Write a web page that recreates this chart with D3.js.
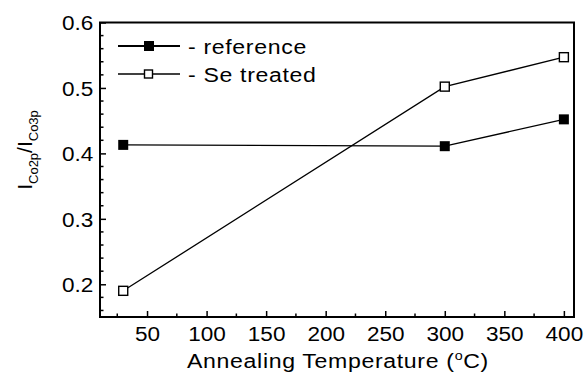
<!DOCTYPE html>
<html>
<head>
<meta charset="utf-8">
<script src="https://cdn.jsdelivr.net/npm/d3@7"></script>
<style>
  body { margin: 0; background: #fff; }
  svg { display: block; }
  text { font-family: "Liberation Sans", Arial, sans-serif; fill: #000; }
</style>
</head>
<body>
<svg id="chart" width="587" height="376"></svg>
<script>
// data
var temps = [30, 300, 400];
var refValues = [0.413, 0.411, 0.452];
var seValues = [0.190, 0.502, 0.547];
var xTicks = [50, 100, 150, 200, 250, 300, 350, 400];
var yTicks = [0.2, 0.3, 0.4, 0.5, 0.6];
var seriesNames = ['- reference', '- Se treated'];

var
svg = d3.select('#chart'),
margin = {left: 100, top: 22.5, right: 13, bottom: 59},
W = 587, H = 376,
sx = 1.1,
x = d3.scaleLinear().domain([10.5, 408.5]).range([margin.left, W - margin.right]),
y = d3.scaleLinear().domain([0.15, 0.6]).range([H - margin.bottom, margin.top]);

// text placed at (px,py), stretched a bit wider like the original
function d3c_stretchText(sel, px, py) {
    sel.attr('transform', 'translate(' + px + ',' + py + ') scale(' + sx + ',1)');
}

// minor ticks
var xMinor = d3.range(25, 410, 25).filter(function (v) { return v % 50 !== 0; });
var yMinor = d3.range(0.16, 0.6, 0.02).filter(function (v) { return Math.abs(v * 10 - Math.round(v * 10)) > 0.01; });

var xAxis = d3.axisBottom(x).tickValues(xTicks).tickSizeInner(-6).tickSizeOuter(0).tickPadding(9).tickFormat(d3.format('d'));
var yAxis = d3.axisLeft(y).tickValues(yTicks).tickSizeInner(-6).tickSizeOuter(0).tickPadding(6).tickFormat(d3.format('.1f'));

var gx = svg.append('g').attr('transform', 'translate(0,' + (H - margin.bottom) + ')').call(xAxis);
var gy = svg.append('g').attr('transform', 'translate(' + margin.left + ',0)').call(yAxis);
[gx, gy].forEach(function (g) {
    g.select('.domain').remove();
    g.selectAll('.tick line').attr('stroke', '#000').attr('stroke-width', 1.5);
    g.selectAll('.tick text')
        .style('font-size', '20.5px')
        .style('font-family', '"Liberation Sans", Arial, sans-serif')
        .attr('transform', 'scale(' + sx + ',1)')
        .attr('fill', '#000');
});
gy.selectAll('.tick text').attr('dy', '0.36em');

svg.append('g').selectAll('line').data(xMinor).enter().append('line')
    .attr('x1', function (d) { return x(d); }).attr('x2', function (d) { return x(d); })
    .attr('y1', H - margin.bottom).attr('y2', H - margin.bottom - 3.5)
    .attr('stroke', '#000').attr('stroke-width', 1.5);
svg.append('g').selectAll('line').data(yMinor).enter().append('line')
    .attr('y1', function (d) { return y(d); }).attr('y2', function (d) { return y(d); })
    .attr('x1', margin.left).attr('x2', margin.left + 3.5)
    .attr('stroke', '#000').attr('stroke-width', 1.5);

// frame
svg.append('rect')
    .attr('x', margin.left).attr('y', margin.top)
    .attr('width', W - margin.right - margin.left).attr('height', H - margin.bottom - margin.top)
    .attr('fill', 'none').attr('stroke', '#000').attr('stroke-width', 2);

// series
var line = d3.line().x(function (d) { return x(d[0]); }).y(function (d) { return y(d[1]); });
var series = [
    {name: seriesNames[0], values: d3.zip(temps, refValues), filled: true},
    {name: seriesNames[1], values: d3.zip(temps, seValues), filled: false}
];

series.forEach(function (s) {
    svg.append('path').datum(s.values).attr('d', line)
        .attr('fill', 'none').attr('stroke', '#000').attr('stroke-width', 1.3);
    svg.append('g').selectAll('rect').data(s.values).enter().append('rect')
        .attr('x', function (d) { return x(d[0]) - (s.filled ? 5 : 4.5); })
        .attr('y', function (d) { return y(d[1]) - (s.filled ? 5 : 4.5); })
        .attr('width', s.filled ? 10 : 9).attr('height', s.filled ? 10 : 9)
        .attr('fill', s.filled ? '#000' : '#fff')
        .attr('stroke', s.filled ? 'none' : '#000').attr('stroke-width', 1.4);
});

// legend
var legendRows = [46, 74];
series.forEach(function (s, i) {
    var ly = legendRows[i];
    svg.append('line').attr('x1', 118).attr('x2', 180).attr('y1', ly).attr('y2', ly)
        .attr('stroke', '#000').attr('stroke-width', s.filled ? 2 : 1.4);
    svg.append('rect')
        .attr('x', s.filled ? 144 : 144.5).attr('y', ly - (s.filled ? 5 : 4))
        .attr('width', s.filled ? 10 : 8).attr('height', s.filled ? 10 : 8)
        .attr('fill', s.filled ? '#000' : '#fff')
        .attr('stroke', s.filled ? 'none' : '#000').attr('stroke-width', 1.4);
    svg.append('text')
        .style('font-size', '21px').style('letter-spacing', '0.6px').text(s.name)
        .call(d3c_stretchText, 188, ly + 7.5);
});

// axis titles
svg.append('text')
    .attr('text-anchor', 'middle').style('font-size', '21px').style('letter-spacing', '0.6px')
    .call(d3c_stretchText, 338, 368)
    .call(function (t) {
        t.append('tspan').text('Annealing Temperature (');
        t.append('tspan').attr('dy', -8).style('font-size', '13px').text('o');
        t.append('tspan').attr('dy', 8).text('C)');
    });

svg.append('text')
    .attr('transform', 'translate(32,150) rotate(-90)')
    .attr('text-anchor', 'middle').style('font-size', '21px')
    .call(function (t) {
        t.append('tspan').text('I');
        t.append('tspan').attr('dy', 6).style('font-size', '13px').text('Co2p');
        t.append('tspan').attr('dy', -6).text('/I');
        t.append('tspan').attr('dy', 6).style('font-size', '13px').text('Co3p');
    });
</script>
</body>
</html>
